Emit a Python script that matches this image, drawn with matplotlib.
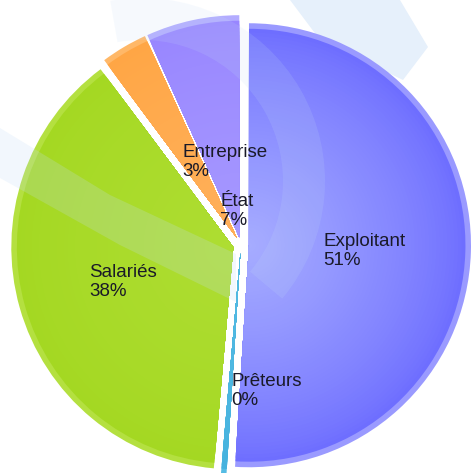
import numpy as np
import matplotlib
matplotlib.use("Agg")
import matplotlib.pyplot as plt
import matplotlib.patches as patches
from matplotlib.colors import to_rgb

# données du graphique
categories = ["Exploitant", "Prêteurs", "Salariés", "Entreprise", "État"]
valeurs = [51.0, 0.4, 38.4, 3.4, 6.8]

# couleurs (bord clair, extérieur, intérieur)
couleurs_bord = ["#9A9AFF", "#55BCE4", "#B4E040", "#FFB868", "#B3ACFF"]
couleurs_ext = ["#6E6EFF", "#45B2DE", "#A4D822", "#FFA645", "#9886FF"]
couleurs_int = ["#A6ACFF", "#55BCE4", "#AEDD32", "#FFB05A", "#A698FF"]

# position des étiquettes (coin gauche, milieu vertical), en pixels
pos_etiquettes = [(323, 251), (231, 391), (89, 282), (182, 162), (220, 211)]

W = H = 473
cx_px, cy_px, R_px = 241, 245, 222
eclat = 0.036


def px2d(x, y):
    return (x - cx_px) / R_px, (cy_px - y) / R_px


fig = plt.figure(figsize=(W / 100, H / 100), dpi=100)
ax = fig.add_axes([0, 0, 1, 1])

explode = [eclat] * len(valeurs)


def couche(rayon, cols, z):
    w, _ = ax.pie(valeurs, colors=cols, startangle=90, counterclock=False,
                  radius=rayon, explode=explode,
                  wedgeprops=dict(linewidth=0, edgecolor="none"))
    for p in w:
        p.set_zorder(z)


# bord clair
couche(1.0, couleurs_bord, 1)
# dégradé radial
n = 60
for k in range(n):
    t = (k / (n - 1)) ** 0.8
    r = 0.975 * (1 - k / n)
    cols = [tuple((1 - t) * np.array(to_rgb(a)) + t * np.array(to_rgb(b)))
            for a, b in zip(couleurs_ext, couleurs_int)]
    couche(r, cols, 2 + k * 0.01)

# bande bleue du fond (derrière le camembert)
bande_fond = [px2d(*p) for p in [(290, 0), (400, 0), (428, 47), (403, 80), (320, 40)]]
ax.add_patch(patches.Polygon(bande_fond, closed=True, facecolor="#E6F0FB",
                             edgecolor="none", zorder=0))

# filigrane translucide par-dessus
voile = dict(facecolor="#C4DDF8", edgecolor="none", alpha=0.22, zorder=40)
bande_g = [px2d(*p) for p in [(0, 128), (0, 178), (120, 245), (236, 302),
                              (236, 254), (110, 195)]]
ax.add_patch(patches.Polygon(bande_g, closed=True, **voile))
c = px2d(142, 181)
voile_arc = dict(voile, alpha=0.15)
ax.add_patch(patches.Wedge(c, 183 / R_px, -40, 100, width=42 / R_px, **voile_arc))

# étiquettes
total = sum(valeurs)
for nom, v, (x, y) in zip(categories, valeurs, pos_etiquettes):
    xd, yd = px2d(x, y)
    ax.text(xd, yd, f"{nom}\n{v / total * 100:.0f}%", ha="left", va="center",
            multialignment="left", fontsize=13.5, family="Liberation Sans",
            color="#1A1A28", linespacing=1.1, zorder=50)

# cadrage en pixels (après pie, qui impose ses propres limites)
ax.set_xlim(px2d(0, 0)[0], px2d(W, 0)[0])
ax.set_ylim(px2d(0, H)[1], px2d(0, 0)[1])
ax.set_aspect("equal")
ax.axis("off")

fig.savefig("out.png", dpi=100, facecolor="white")
